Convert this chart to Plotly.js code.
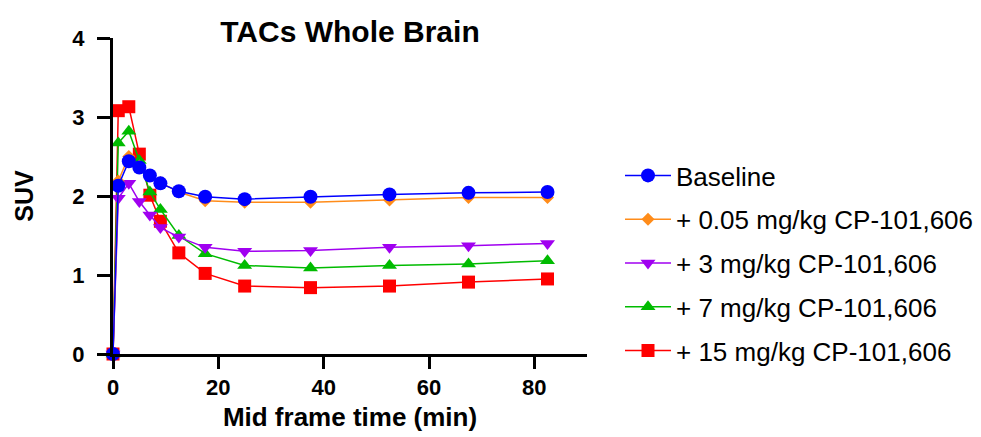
<!DOCTYPE html>
<html>
<head>
<meta charset="utf-8">
<script src="https://cdn.plot.ly/plotly-3.0.1.min.js"></script>
<style>html,body{margin:0;padding:0;background:#fff;}#chart{width:981px;height:437px;}</style>
</head>
<body>
<div id="chart"></div>
<script>
const time = [0, 1, 3, 5, 7, 9, 12.5, 17.5, 25, 37.5, 52.5, 67.5, 82.5];
const baseline = [0, 2.13, 2.44, 2.36, 2.26, 2.16, 2.06, 1.99, 1.96, 1.99, 2.02, 2.04, 2.05];
const dose005 = [0, 2.19, 2.50, 2.38, 2.26, 2.17, 2.05, 1.94, 1.92, 1.92, 1.95, 1.98, 1.98];
const dose3 = [0, 1.97, 2.16, 1.93, 1.76, 1.60, 1.48, 1.35, 1.30, 1.31, 1.35, 1.37, 1.40];
const dose7 = [0, 2.67, 2.82, 2.45, 2.05, 1.83, 1.50, 1.27, 1.12, 1.09, 1.12, 1.14, 1.18];
const dose15 = [0, 3.08, 3.13, 2.53, 2.01, 1.68, 1.28, 1.02, 0.86, 0.84, 0.86, 0.91, 0.95];

const names = ["Baseline", "+ 0.05 mg/kg CP-101,606", "+ 3 mg/kg CP-101,606", "+ 7 mg/kg CP-101,606", "+ 15 mg/kg CP-101,606"];
const colors = ["#0000FF", "#FF8C1A", "#A000F0", "#00BB00", "#FF0000"];
const symbols = ["circle", "diamond", "triangle-down", "triangle-up", "square"];
const sizes = [14, 10, 13, 13, 13];
const series = [baseline, dose005, dose3, dose7, dose15];

const traces = [];
for (let i = series.length - 1; i >= 0; i--) {
  traces.push({
    x: time, y: series[i], name: names[i], type: "scatter", mode: "lines+markers",
    legendgroup: "g" + i, legendrank: i + 1, cliponaxis: false,
    line: {color: colors[i], width: 1.5},
    marker: {color: colors[i], symbol: symbols[i], size: sizes[i], line: {width: 0}}
  });
}

const layout = {
  width: 981, height: 437,
  margin: {l: 113, r: 394, t: 38, b: 83},
  paper_bgcolor: "#fff", plot_bgcolor: "#fff",
  font: {family: "Liberation Sans, Arial, sans-serif", color: "#000"},
  title: {text: "<b>TACs Whole Brain</b>", font: {size: 30, color: "#000"}, x: 0.5, xref: "paper", xanchor: "center", y: 1 - 31/437, yref: "container", yanchor: "middle"},
  xaxis: {
    range: [0, 90], tickvals: [0, 20, 40, 60, 80], ticktext: ["0", "20", "40", "60", "80"],
    showgrid: false, zeroline: false, showline: true, linewidth: 3, linecolor: "#000",
    ticks: "outside", ticklen: 12, tickwidth: 3, tickcolor: "#000",
    tickfont: {size: 22, color: "#000", family: "Liberation Sans, Arial, sans-serif", weight: "bold"},
    title: {text: "<b>Mid frame time (min)</b>", font: {size: 26, color: "#000"}, standoff: 9}
  },
  yaxis: {
    range: [0, 4], tickvals: [0, 1, 2, 3, 4], ticktext: ["0", "1", "2", "3", "4"],
    showgrid: false, zeroline: false, showline: true, linewidth: 3, linecolor: "#000",
    ticks: "outside", ticklen: 13, tickwidth: 3, tickcolor: "#000", ticklabelstandoff: 8,
    tickfont: {size: 22, color: "#000", family: "Liberation Sans, Arial, sans-serif", weight: "bold"},
    title: {text: "<b>SUV</b>", font: {size: 25, color: "#000"}, standoff: 32}
  },
  showlegend: true,
  legend: {
    traceorder: "grouped", x: 620/981, xref: "container", xanchor: "left",
    y: 1 - 152/437, yref: "container", yanchor: "top",
    font: {size: 26, color: "#000"}, tracegroupgap: 7, itemwidth: 46, bgcolor: "rgba(0,0,0,0)"
  }
};

Plotly.newPlot("chart", traces, layout, {displayModeBar: false, staticPlot: true});
</script>
</body>
</html>
